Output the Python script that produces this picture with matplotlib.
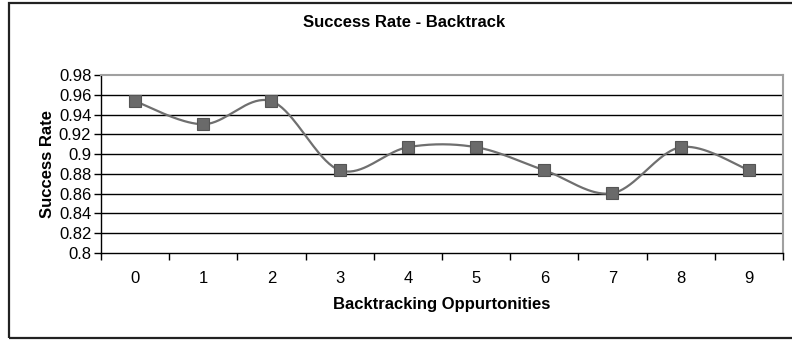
import numpy as np
import matplotlib.pyplot as plt
from matplotlib.patches import Rectangle

plt.rcParams['font.family'] = ['Liberation Sans', 'DejaVu Sans']

oportunidades = [0, 1, 2, 3, 4, 5, 6, 7, 8, 9]
tasa_exito = [0.9535, 0.9302, 0.9535, 0.8837, 0.9070,
              0.9070, 0.8837, 0.8605, 0.9070, 0.8837]
yticks = [0.8, 0.82, 0.84, 0.86, 0.88, 0.9, 0.92, 0.94, 0.96, 0.98]


def curva_suave(x, y, n=40):
    # spline tipo Catmull-Rom con segmentos Bezier cúbicos
    x = np.asarray(x, float)
    y = np.asarray(y, float)
    px = np.concatenate([[x[0]], x, [x[-1]]])
    py = np.concatenate([[y[0]], y, [y[-1]]])
    t = np.linspace(0, 1, n)
    xs, ys = [], []
    for i in range(1, len(px) - 2):
        p0 = np.array([px[i], py[i]])
        p3 = np.array([px[i + 1], py[i + 1]])
        p1 = p0 + (np.array([px[i + 1], py[i + 1]]) - np.array([px[i - 1], py[i - 1]])) / 6
        p2 = p3 - (np.array([px[i + 2], py[i + 2]]) - np.array([px[i], py[i]])) / 6
        b = ((1 - t) ** 3)[:, None] * p0 + (3 * (1 - t) ** 2 * t)[:, None] * p1 \
            + (3 * (1 - t) * t ** 2)[:, None] * p2 + (t ** 3)[:, None] * p3
        xs.append(b[:, 0])
        ys.append(b[:, 1])
    return np.concatenate(xs), np.concatenate(ys)


fig = plt.figure(figsize=(7.92, 3.4), dpi=100)
ax = fig.add_axes([0.1275, 0.2559, 0.8611, 0.5235])

# marco exterior del gráfico
fig.patches.append(Rectangle((8.5 / 792, 2.5 / 340), 1.0, 335 / 340,
                             transform=fig.transFigure, fill=False,
                             ec="#222222", lw=1.6))

for v in yticks[1:-1]:
    ax.axhline(v, color="black", lw=1.0, zorder=1)

xs, ys = curva_suave(oportunidades, tasa_exito)
ax.plot(xs, ys, color="#6f6f6f", lw=1.6, zorder=2)
ax.plot(oportunidades, tasa_exito, ls="none", marker="s", ms=8.8,
        mfc="#6a6a6a", mec="#555555", mew=0.8, zorder=3)

ax.set_xlim(-0.5, 9.5)
ax.set_ylim(0.8, 0.98)
ax.set_yticks(yticks)
ax.set_yticklabels(["0.8", "0.82", "0.84", "0.86", "0.88", "0.9",
                    "0.92", "0.94", "0.96", "0.98"], fontsize=12)
ax.set_xticks(oportunidades)
ax.set_xticklabels([str(o) for o in oportunidades], fontsize=12)
ax.set_xticks(np.arange(-0.5, 10, 1), minor=True)
ax.tick_params(axis="x", which="major", length=0, pad=13)
ax.tick_params(axis="x", which="minor", length=5, width=1, direction="out")
ax.tick_params(axis="y", length=5, width=1, direction="out", pad=2)

for lado in ["top", "right"]:
    ax.spines[lado].set_color("#a0a0a0")
    ax.spines[lado].set_linewidth(1.5)
for lado in ["left", "bottom"]:
    ax.spines[lado].set_color("black")
    ax.spines[lado].set_linewidth(1.0)

ax.set_xlabel("Backtracking Oppurtonities", fontsize=12, fontweight="bold",
              labelpad=8)
ax.set_ylabel("Success Rate", fontsize=12, fontweight="bold", labelpad=3)
fig.text(0.51, 0.933, "Success Rate - Backtrack", ha="center", va="center",
         fontsize=12, fontweight="bold")

plt.savefig("out.png", dpi=100)
plt.close()
